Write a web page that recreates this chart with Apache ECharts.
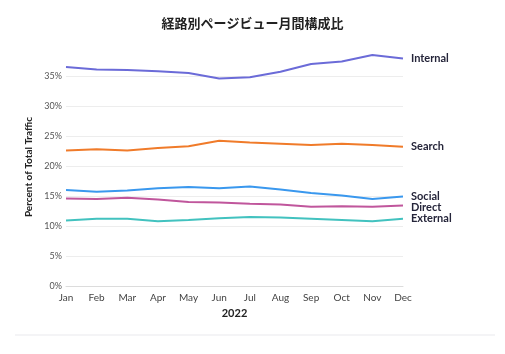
<!DOCTYPE html>
<html>
<head>
<meta charset="utf-8">
<script src="https://cdn.jsdelivr.net/npm/echarts@6/dist/echarts.min.js"></script>
<style>
html, body { margin: 0; padding: 0; background: #fff; }
#chart { width: 505px; height: 354px; }
</style>
</head>
<body>
<div id="chart"></div>
<script>
// 月
var months = ['Jan', 'Feb', 'Mar', 'Apr', 'May', 'Jun', 'Jul', 'Aug', 'Sep', 'Oct', 'Nov', 'Dec'];
// 系列名
var names = ['Internal', 'Search', 'Social', 'Direct', 'External'];
var colors = ['#6b6bd8', '#f07b2a', '#3a98ee', '#c0569c', '#42c2bf'];
// 各系列の値 (%)
var internalData = [36.5, 36.1, 36.0, 35.8, 35.5, 34.6, 34.8, 35.7, 37.0, 37.4, 38.5, 37.9];
var searchData   = [22.6, 22.8, 22.6, 23.0, 23.3, 24.2, 23.9, 23.7, 23.5, 23.7, 23.5, 23.2];
var socialData   = [16.0, 15.7, 15.9, 16.3, 16.5, 16.3, 16.6, 16.1, 15.5, 15.1, 14.5, 14.9];
var directData   = [14.6, 14.5, 14.7, 14.4, 14.0, 13.9, 13.7, 13.6, 13.2, 13.3, 13.2, 13.4];
var externalData = [10.9, 11.2, 11.2, 10.8, 11.0, 11.3, 11.5, 11.4, 11.2, 11.0, 10.8, 11.2];
var yTicks = ['0%', '5%', '10%', '15%', '20%', '25%', '30%', '35%'];

var allData = [internalData, searchData, socialData, directData, externalData];

function MakeSeries() {
    var list = [];
    for (var i = 0; i < names.length; i++) {
        list.push({
            name: names[i],
            type: 'line',
            data: allData[i],
            symbol: 'none',
            clip: false,
            lineStyle: { color: colors[i], width: 2 },
            itemStyle: { color: colors[i] },
            endLabel: {
                show: true,
                formatter: '{a}',
                color: '#25253a',
                fontSize: 11,
                fontWeight: 'bold',
                fontFamily: 'Lato',
                distance: 8
            },
            labelLayout: { moveOverlap: 'shiftY' }
        });
    }
    return list;
}

var chart = echarts.init(document.getElementById('chart'));
chart.setOption({
    animation: false,
    title: {
        text: '経路別ページビュー月間構成比',
        left: 'center',
        top: 12,
        textStyle: {
            fontFamily: 'Noto Sans CJK JP',
            fontSize: 13,
            fontWeight: 'bold',
            color: '#222'
        }
    },
    grid: { left: 66, right: 102, top: 76, bottom: 68 },
    xAxis: {
        type: 'category',
        data: months,
        boundaryGap: false,
        name: '2022',
        nameLocation: 'middle',
        nameGap: 22,
        nameTextStyle: { fontFamily: 'Lato', fontSize: 11, fontWeight: 'bold', color: '#222' },
        axisLine: { lineStyle: { color: '#dcdcdc' } },
        axisTick: { show: false },
        axisLabel: { fontFamily: 'Lato', fontSize: 10, color: '#444', margin: 7 }
    },
    yAxis: {
        type: 'value',
        min: 0,
        max: 35,
        interval: 5,
        name: 'Percent of Total Traffic',
        nameLocation: 'middle',
        nameGap: 19,
        nameTextStyle: { fontFamily: 'Lato', fontSize: 10, fontWeight: 'bold', color: '#222', padding: [0, 0, 0, 28] },
        axisLine: { show: false },
        axisTick: { show: false },
        splitLine: { lineStyle: { color: '#ededed' } },
        axisLabel: {
            fontFamily: 'Lato',
            fontSize: 9,
            color: '#555',
            margin: 4,
            formatter: function (v) { return yTicks[v / 5]; }
        }
    },
    graphic: [{
        type: 'rect',
        shape: { x: 15, y: 334, width: 480, height: 2 },
        style: { fill: '#f4f4f6' }
    }],
    series: MakeSeries()
});
</script>
</body>
</html>
